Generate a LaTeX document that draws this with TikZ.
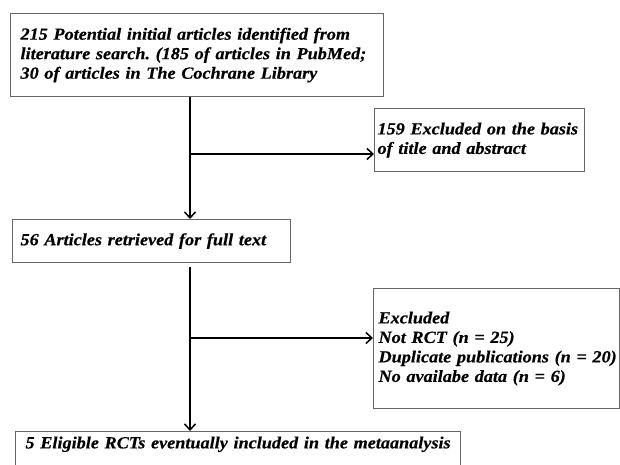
\documentclass[tikz,border=0pt]{standalone}
\usepackage{fontspec}
\setmainfont{Liberation Serif}[BoldItalicFeatures={FakeStretch=1.07,FakeBold=0.4}]
\usepackage{tikz}
\usetikzlibrary{arrows,arrows.meta,shapes}
\hyphenpenalty=10000
\exhyphenpenalty=10000
\tikzstyle{stage}=[rectangle,draw=black!60,line width=1.1pt,anchor=north west,align=left,inner ysep=0pt,font=\fontsize{17pt}{19.5pt}\selectfont\bfseries\itshape]
\tikzstyle{flow}=[line width=1.5pt,-{Straight Barb[length=6pt,width=11pt,line width=1.5pt]}]

\begin{document}
\begin{tikzpicture}[x=1pt,y=-1pt]
            \path[use as bounding box,clip] (0,0) rectangle (620,464);

            \node[stage,inner xsep=10pt,text width=353pt,minimum height=83pt] (search) at (10,13)
                {215~Potential~initial~articles~identified~from\\literature~search.~(185~of~articles~in~PubMed;\\30 of articles in The Cochrane Library\\[4pt]};
            \node[stage,inner xsep=3pt,text width=204pt,minimum height=63pt] (screen) at (374,108)
                {159~Excluded~on~the~basis\\of title and abstract};
            \node[stage,inner xsep=8pt,text width=262pt,minimum height=43pt] (fulltext) at (12,219)
                {56 Articles retrieved for full text};
            \node[stage,inner xsep=5pt,text width=236pt,minimum height=120pt] (excl) at (373,288)
                {Excluded\\Not RCT (n = 25)\\Duplicate~publications~(n~=~20)\\No availabe data (n = 6)};
            \node[stage,inner xsep=10pt,inner ysep=5pt,text width=425pt,text depth=30pt] (included) at (15,431)
                {5~Eligible~RCTs~eventually~included~in~the~metaanalysis};

            % trunk of the flow
            \coordinate (trunk) at (190,0);
            \coordinate (fork1) at (190,154);
            \coordinate (start2) at (190,267);
            \coordinate (fork2) at (190,338);

            \draw[flow] (search.south -| trunk) -- (fulltext.north -| trunk);
            \draw[flow] (fork1) -- (screen.west |- fork1);
            \draw[flow] (start2) -- (included.north -| trunk);
            \draw[flow] (fork2) -- (excl.west |- fork2);

        \end{tikzpicture}
\end{document}
